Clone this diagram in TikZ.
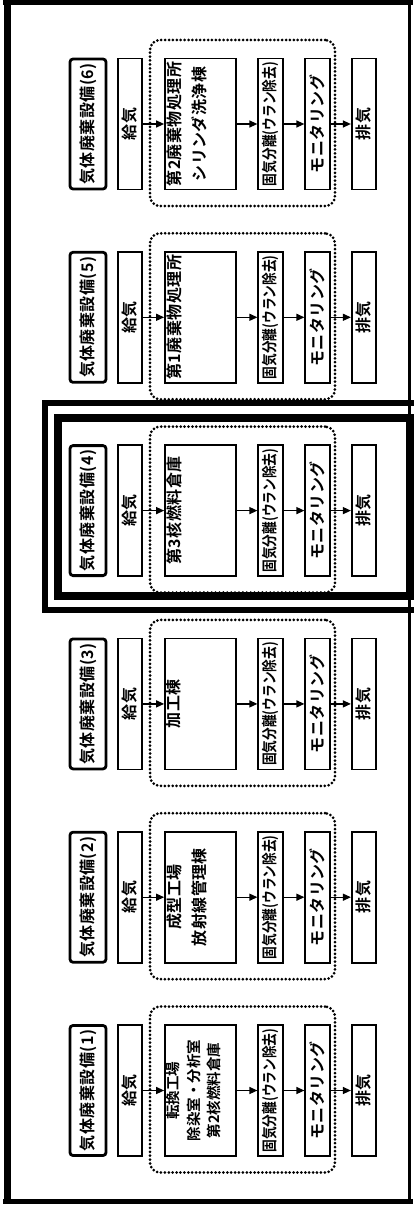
\documentclass[tikz,border=0pt]{standalone}
\usepackage{fontspec}
\usetikzlibrary{arrows.meta}
\newfontfamily\jpfont[LetterSpace=3,BoldFont={Noto Sans CJK JP Bold}]{Noto Sans CJK JP}
\newfontfamily\jpplain[BoldFont={Noto Sans CJK JP Bold}]{Noto Sans CJK JP}
\newfontfamily\jpnarrow[FakeStretch=0.82,BoldFont={Noto Sans CJK JP Bold}]{Noto Sans CJK JP}
\newcommand\jpf{\jpfont\bfseries\fontsize{16pt}{25pt}\selectfont}
\newcommand\jpt{\jpplain\bfseries\fontsize{14.5pt}{20.5pt}\selectfont}
\newcommand\jpn{\jpnarrow\bfseries\fontsize{15.5pt}{20pt}\selectfont}
\tikzset{
  base/.style={draw, line width=1.7pt, rotate=90, inner sep=0pt, font=\jpf},
  titlebox/.style={base, line width=2.8pt, rounded corners=3pt, minimum width=130pt, minimum height=36pt},
  smallbox/.style={base, minimum width=131pt, minimum height=24.5pt},
  bldbox/.style={base, minimum width=131pt, minimum height=71pt},
  txt/.style={rotate=90, inner sep=0pt, align=center, font=\jpf},
  zone/.style={draw, line width=3pt, dash pattern=on 0pt off 3.9pt, line cap=round, rounded corners=10pt, minimum width=185pt, minimum height=166pt, inner sep=0pt},
  arr/.style={line width=1.3pt, -{Triangle[length=8pt,width=7pt]}},
  frame/.style={line width=#1, line cap=butt},
}
\begin{document}
\begin{tikzpicture}[x=1pt,y=-1pt]
\useasboundingbox (0,0) rectangle (413,1212);
\fill[white] (0,0) rectangle (413,1212);
% outer frame
\draw[frame=7pt] (7,0) -- (7,1204);
\draw[frame=5pt] (3,2.5) -- (413,2.5);
\draw[frame=5pt] (3,1201.5) -- (413,1201.5);
\draw[frame=3pt] (409.5,0) -- (409.5,1204);
% highlight of (4)
\draw[line width=6pt] (45,403) rectangle (425,610);
\draw[line width=8pt] (58,417.5) rectangle (410,596);
\foreach \k/\cy in {6/124, 5/317.3, 4/510.6, 3/703.9, 2/897.2, 1/1090.5}{
  \node[zone] (z\k) at (242.5,\cy-1) {};
  \node[titlebox] (t\k) at (88,\cy) {気体廃棄設備(\k)};
  \node[smallbox] (g\k) at (130,\cy) {給気};
  \node[bldbox] (b\k) at (200.5,\cy) {};
  \node[smallbox, font=\jpn] (s\k) at (270.5,\cy) {固気分離(ウラン除去)};
  \node[smallbox] (m\k) at (317.5,\cy) {モニタリング};
  \node[smallbox] (e\k) at (364,\cy) {排気};
  \draw[arr] (g\k.south) -- (b\k.north);
  \draw[arr] (b\k.south) -- (s\k.north);
  \draw[arr] (s\k.south) -- (m\k.north);
  \draw[arr] (m\k.south) -- (e\k.north);
}
\node[txt, anchor=north] (n6) at ([xshift=2pt]b6.north) {第2廃棄物処理所\\シリンダ洗浄棟};
\node[txt, anchor=north] (n5) at ([xshift=2pt]b5.north) {第1廃棄物処理所};
\node[txt, anchor=north] (n4) at ([xshift=2pt]b4.north) {第3核燃料倉庫};
\node[txt, anchor=north] (n3) at ([xshift=2pt]b3.north) {加工棟};
\node[txt, anchor=north] (n2) at ([xshift=2pt]b2.north) {成型工場\\放射線管理棟};
\node[txt, anchor=north, font=\jpt] (n1) at ([xshift=2pt]b1.north) {転換工場\\除染室・分析室\\第2核燃料倉庫};
\end{tikzpicture}
\end{document}
